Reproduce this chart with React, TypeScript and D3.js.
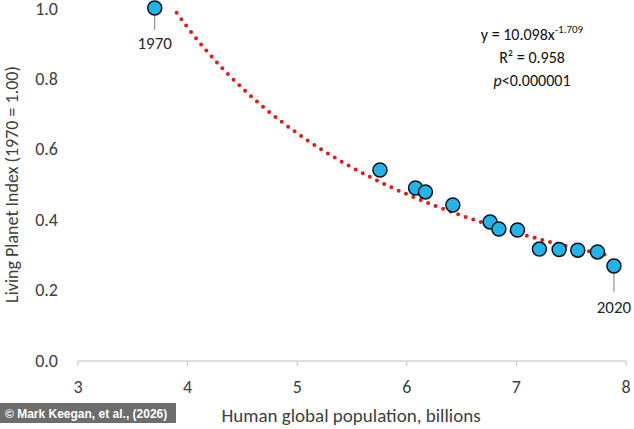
import * as d3 from 'd3';

const popX = [3.7, 5.755, 6.08, 6.17, 6.42, 6.76, 6.84, 7.01, 7.21, 7.39, 7.56, 7.74, 7.89];
const lpiY = [1.0, 0.541, 0.49, 0.479, 0.442, 0.394, 0.374, 0.371, 0.317, 0.316, 0.314, 0.309, 0.269];
const xTicks = [3, 4, 5, 6, 7, 8];
const yTicks = [0, 0.2, 0.4, 0.6, 0.8, 1.0];
const fitA = 10.098;
const fitB = -1.709;

const W = 634, H = 429;
const FONT = 'Carlito, "Open Sans", "Liberation Sans", sans-serif';

export default function App() {
  const x = d3.scaleLinear().domain([3, 8]).range([78, 626]);
  const y = d3.scaleLinear().domain([0, 1]).range([361, 8]);

  const fitXs = d3.range(3.9, 7.85, 0.01);
  const line = d3.line<number>().x(v => x(v)).y(v => y(fitA * Math.pow(v, fitB)));

  const first = { x: x(popX[0]), y: y(lpiY[0]) };
  const last = { x: x(popX[popX.length - 1]), y: y(lpiY[lpiY.length - 1]) };

  return (
    <svg width={W} height={H} style={{ position: 'absolute', left: 0, top: 0, background: '#fff' }} fontFamily={FONT}>
      <line x1={x(3)} x2={x(8)} y1={y(0)} y2={y(0)} stroke="#bfbfbf" strokeWidth={1} />
      {xTicks.map(t => (
        <g key={t}>
          <line x1={x(t)} x2={x(t)} y1={y(0)} y2={y(0) + 5} stroke="#bfbfbf" />
          <text x={x(t)} y={393} textAnchor="middle" fontSize={18} fill="#404040">{t}</text>
        </g>
      ))}
      {yTicks.map(t => (
        <text key={t} x={58} y={Math.max(y(t) + 6, 15)} textAnchor="end" fontSize={18} fill="#404040">{t.toFixed(1)}</text>
      ))}
      <text transform={`translate(18,${y(0.5)}) rotate(-90)`} textAnchor="middle" fontSize={18} fill="#404040">
        Living Planet Index (1970 = 1.00)
      </text>
      <text x={351} y={422} textAnchor="middle" fontSize={19} fill="#404040">Human global population, billions</text>

      <path d={line(fitXs) ?? ''} fill="none" stroke="#e31a1c" strokeWidth={4} strokeLinecap="round" strokeDasharray="0 8" />

      <line x1={first.x} x2={first.x} y1={first.y + 7} y2={first.y + 22} stroke="#7f7f7f" />
      <text x={first.x} y={first.y + 41} textAnchor="middle" fontSize={17} fill="#262626">1970</text>
      <line x1={last.x} x2={last.x} y1={last.y + 7} y2={last.y + 26} stroke="#7f7f7f" />
      <text x={last.x} y={last.y + 47} textAnchor="middle" fontSize={17} fill="#262626">2020</text>

      {popX.map((v, i) => (
        <circle key={i} cx={x(v)} cy={y(lpiY[i])} r={7} fill="#1fb4ea" stroke="#111" strokeWidth={1.5} />
      ))}

      <text x={532} y={40} textAnchor="middle" fontSize={16} fill="#111">
        y = 10.098x<tspan dy={-7} fontSize={11}>-1.709</tspan>
      </text>
      <text x={532} y={63} textAnchor="middle" fontSize={16} fill="#111">R² = 0.958</text>
      <text x={532} y={86} textAnchor="middle" fontSize={16} fill="#111">
        <tspan fontStyle="italic">p</tspan>&lt;0.000001
      </text>

      <rect x={0} y={403} width={176} height={20} fill="rgba(60,60,60,0.75)" />
      <text x={5} y={418} fontSize={12} fontWeight="bold" fill="#fff" fontFamily='"Liberation Sans", Arial, sans-serif'>
        © Mark Keegan, et al., (2026)
      </text>
    </svg>
  );
}
